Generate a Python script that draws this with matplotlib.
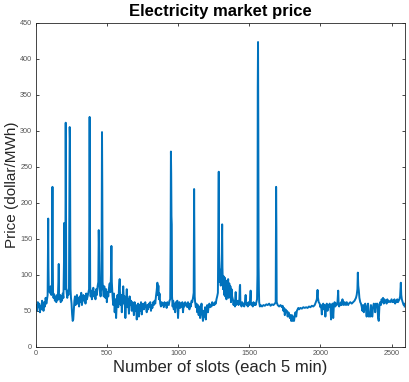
#! python3

import matplotlib
matplotlib.use('Agg')
import matplotlib.pyplot as plt

# price at selected slots (5-min slots, 9 days)
slots = [
  0, 5, 10, 15, 20, 25, 30, 35, 40, 45, 50, 55, 60, 65, 70, 75, 80, 84,
  86, 88, 90, 92, 95, 100, 105, 110, 114, 116, 118, 120, 122,
  125, 130, 135, 140, 145, 150, 155, 160, 162, 164,
  168, 172, 176, 180, 185, 190, 195, 199, 201, 203, 206, 209, 211, 213, 215,
  218, 222, 226, 230, 234, 237, 239, 241, 243, 245,
  248, 252, 256, 260, 264, 268, 272, 276, 280, 285, 290, 295, 300, 305, 310,
  315, 320, 325, 330, 335, 340, 345, 350, 355, 360, 365, 370, 375,
  377, 379, 381, 383,
  386, 390, 395, 400, 405, 410, 415, 420, 425, 430, 435, 440,
  443, 446, 448, 452, 456, 460, 463, 466, 468, 470,
  474, 478, 482, 486, 490, 495, 500, 505, 510, 515, 520, 525,
  529, 532, 535,
  540, 545, 550, 555, 560, 565, 570, 575, 580, 585, 590, 593, 597, 601, 605,
  610, 615, 620, 625, 630, 635, 640, 645, 650, 655, 660, 665, 670, 675, 680,
  685, 690, 695, 700, 705, 710, 715, 720, 725, 730, 735, 740, 745, 750, 755,
  760, 765, 770, 775, 780, 785, 790, 795, 800, 805, 810, 815, 820, 825, 830,
  835, 840, 845, 850, 855, 858, 862, 866, 870, 875, 880, 885, 890, 895, 900,
  905, 910, 915, 920, 925, 930, 935, 940, 945,
  948, 950, 952, 954, 956, 958,
  962, 966, 970, 975, 980, 985, 990, 995, 1000, 1005, 1010, 1015, 1020, 1025,
  1030, 1035, 1040, 1045, 1050, 1055, 1060, 1065, 1070, 1075, 1080, 1085,
  1090, 1095, 1100, 1105, 1110,
  1113, 1115, 1117,
  1120, 1125, 1130, 1135, 1140, 1145, 1150, 1155, 1160, 1165, 1170, 1175,
  1180, 1185, 1190, 1195, 1200, 1205, 1210, 1215, 1220, 1225, 1230, 1235,
  1240, 1245, 1250, 1255, 1260, 1265, 1270, 1275, 1280,
  1284, 1286, 1288, 1292, 1296, 1300, 1304, 1307, 1310, 1312, 1316, 1320,
  1324, 1328, 1332, 1336, 1340, 1344, 1348, 1352, 1356, 1360, 1364, 1368,
  1372, 1376, 1380, 1385, 1390, 1395, 1400, 1405, 1408, 1412, 1416, 1420,
  1425, 1430, 1434, 1436, 1438, 1442, 1446, 1450, 1455, 1460, 1465, 1470,
  1475, 1478, 1482, 1486, 1490, 1495, 1500, 1505, 1510, 1512, 1516, 1520,
  1525, 1530, 1535, 1540, 1545, 1550, 1555, 1558,
  1560, 1562, 1564, 1566, 1568, 1570,
  1575, 1580, 1590, 1600, 1610, 1620, 1630, 1640, 1650, 1660, 1670, 1680, 1686,
  1689, 1691, 1693,
  1700, 1710, 1720, 1730, 1735, 1740, 1745, 1750, 1755, 1760, 1765, 1770,
  1775, 1780, 1785, 1790, 1795, 1800, 1805, 1810, 1815, 1820, 1825, 1830,
  1835, 1840, 1845, 1850, 1860, 1870, 1880, 1890, 1900, 1910, 1920, 1930,
  1940, 1950, 1960, 1968, 1975, 1980, 1983, 1988, 1995, 2000, 2005, 2010,
  2015, 2020, 2025, 2030, 2035, 2040, 2045, 2050, 2055, 2060, 2065, 2070,
  2075, 2080, 2085, 2090, 2095, 2100, 2105, 2110, 2115, 2120, 2125, 2128,
  2132, 2136, 2140, 2145, 2150, 2155, 2160, 2165, 2170, 2175, 2180, 2185,
  2190, 2195, 2200, 2210, 2220, 2230, 2240, 2250, 2255, 2260,
  2263, 2266, 2270, 2274, 2280, 2285, 2290, 2295, 2300, 2305, 2310, 2315,
  2320, 2325, 2330, 2335, 2340, 2345, 2350, 2355, 2360, 2365, 2370, 2375,
  2380, 2385, 2390, 2395, 2400, 2405, 2410, 2415, 2420, 2425, 2430, 2435,
  2440, 2445, 2450, 2455, 2460, 2465, 2470, 2475, 2480, 2490, 2500, 2505,
  2510, 2515, 2520, 2525, 2530, 2535, 2540, 2545, 2550, 2555, 2560,
  2565, 2568, 2572, 2578, 2585, 2590, 2592,
]
price = [
  52, 58, 50, 62, 55, 60, 48, 57, 52, 64, 58, 50, 62, 56, 68, 60, 66, 72,
  120, 178, 110, 82, 78, 75, 84, 72, 80, 150, 222, 130, 76,
  68, 73, 64, 70, 62, 72, 65, 90, 115, 70,
  66, 72, 62, 70, 64, 74, 68, 120, 172, 110, 80, 150, 311, 180, 82,
  75, 68, 78, 72, 82, 200, 305, 288, 150, 80,
  68, 60, 45, 36, 38, 50, 64, 70, 58, 66, 72, 60, 68, 56, 70,
  62, 75, 58, 66, 72, 64, 70, 60, 74, 66, 70, 75, 80,
  200, 319, 180, 85,
  70, 78, 66, 74, 82, 70, 76, 66, 80, 72, 84, 90,
  162, 130, 85, 76, 70, 80, 120, 298, 220, 90,
  78, 70, 84, 74, 68, 80, 62, 76, 70, 82, 88, 76,
  100, 140, 90,
  70, 58, 74, 48, 66, 40, 62, 72, 55, 80, 94, 70, 58, 72, 48,
  66, 84, 60, 70, 40, 62, 80, 55, 66, 46, 70, 58, 64, 50, 62,
  56, 44, 62, 50, 58, 38, 52, 60, 42, 58, 50, 62, 45, 56, 60,
  52, 58, 62, 55, 48, 58, 52, 60, 56, 62, 50, 58, 54, 62, 58,
  64, 60, 70, 78, 89, 72, 85, 66, 74, 60, 56, 62, 58, 60, 55,
  62, 58, 60, 54, 62, 60, 58, 64, 66,
  150, 271, 240, 181, 170, 70,
  56, 64, 52, 60, 48, 62, 55, 64, 40, 58, 62, 54, 60, 56,
  62, 48, 60, 56, 62, 58, 60, 55, 62, 58, 52, 60,
  56, 64, 62, 68, 75,
  219, 150, 70,
  62, 55, 60, 48, 58, 44, 56, 40, 52, 60, 45, 36,
  50, 42, 55, 38, 52, 58, 48, 56, 60, 55, 58, 56,
  62, 58, 60, 58, 62, 60, 66, 70, 75,
  180, 243, 130, 90, 107, 85, 100, 120, 170, 110, 80, 98,
  72, 96, 70, 92, 66, 90, 75, 94, 68, 88, 74, 84,
  62, 80, 70, 66, 58, 64, 56, 76, 58, 62, 60, 64,
  58, 62, 84, 86, 62, 60, 56, 62, 58, 60, 56, 62,
  72, 60, 58, 60, 56, 62, 58, 60, 78, 60, 58, 60,
  56, 62, 58, 60, 58, 62, 66, 100,
  360, 423, 300, 112, 80, 62,
  56, 58, 56, 58, 57, 59, 58, 60, 57, 59, 58, 60, 62,
  222, 165, 62,
  58, 56, 58, 55, 57, 50, 54, 44, 52, 48, 50, 42,
  48, 46, 40, 44, 36, 44, 36, 42, 36, 44, 48, 42,
  50, 52, 54, 52, 54, 53, 55, 54, 55, 54, 56, 55,
  57, 56, 58, 62, 66, 79, 68, 62, 60, 55, 58, 45,
  56, 60, 52, 58, 42, 56, 60, 50, 58, 55, 60, 56,
  38, 55, 60, 40, 58, 62, 56, 60, 58, 62, 78, 60,
  56, 60, 58, 62, 58, 66, 60, 58, 62, 60, 58, 62,
  60, 58, 60, 62, 60, 62, 64, 68, 72, 80,
  103, 85, 78, 68, 62, 60, 56, 50, 58, 48, 56, 60,
  52, 42, 56, 60, 42, 44, 42, 58, 43, 42, 56, 60,
  58, 48, 60, 56, 60, 40, 36, 58, 62, 58, 66, 62,
  68, 60, 66, 62, 64, 60, 66, 62, 64, 62, 66, 62,
  64, 62, 66, 60, 64, 62, 66, 62, 64, 66, 70,
  89, 72, 66, 62, 58, 60, 56,
]

xticks = [0, 500, 1000, 1500, 2000, 2500]
yticks = [0, 50, 100, 150, 200, 250, 300, 350, 400, 450]


def run():
  plt.rcParams['font.family'] = ['Liberation Sans', 'DejaVu Sans']
  axcolor = '#262626'

  fig, ax = plt.subplots(figsize=(4.1, 3.82), dpi=100)
  ax.plot(slots, price, color='#0072BD', linewidth=1.4)
  ax.set_position([.087, .092, .9, .849])
  ax.set_xlim(0, 2592)
  ax.set_ylim(0, 450)
  ax.set_xticks(xticks)
  ax.set_yticks(yticks)
  ax.tick_params(direction='in', length=2.5, width=0.6, labelsize=5.2,
                 colors=axcolor, labelcolor='#555555', top=True, right=True,
                 pad=2.5)
  for s in ax.spines.values():
    s.set_color(axcolor)
    s.set_linewidth(0.6)
  ax.set_xlabel('Number of slots (each 5 min)', fontsize=12, color=axcolor,
                labelpad=2)
  ax.set_ylabel('Price (dollar/MWh)', fontsize=11, color=axcolor)
  ax.yaxis.set_label_coords(-0.045, 0.5)
  ax.set_title('Electricity market price', fontsize=12, weight='bold',
               color='black', pad=5)
  fig.savefig('out.png', dpi=100)


if __name__ == '__main__':
  run()
